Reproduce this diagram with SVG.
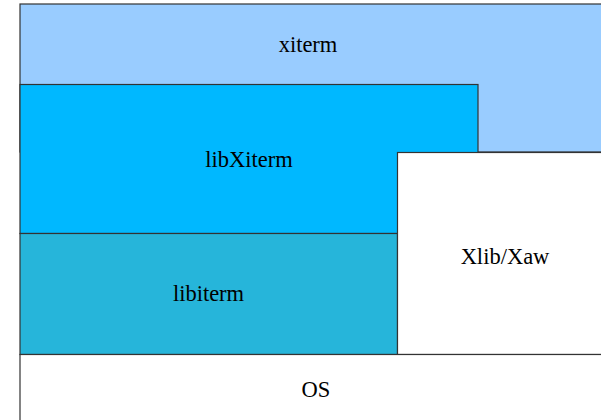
<svg xmlns="http://www.w3.org/2000/svg" width="601" height="420" viewBox="0 0 601 420">
  <style>
    .layer { stroke: #333; stroke-width: 1.2; }
    .label { font-family: "Liberation Serif", "Times New Roman", serif; font-size: 22.5px; fill: #000; text-anchor: middle; }
  </style>
  <rect x="0" y="0" width="601" height="420" fill="#fff"/>
  <g id="xiterm">
    <rect class="layer" x="20" y="4" width="600" height="148" fill="#99ccff"/>
    <text class="label" x="308" y="52">xiterm</text>
  </g>
  <g id="libXiterm">
    <rect class="layer" x="20" y="84.5" width="458" height="149" fill="#00b8ff"/>
    <text class="label" x="249" y="167">libXiterm</text>
  </g>
  <g id="libiterm">
    <rect class="layer" x="20" y="233.5" width="377.5" height="121" fill="#26b5da"/>
    <text class="label" x="208.5" y="301">libiterm</text>
  </g>
  <g id="xlib-xaw">
    <rect class="layer" x="397.5" y="152.5" width="230" height="202" fill="#ffffff"/>
    <text class="label" x="505" y="263.5">Xlib/Xaw</text>
  </g>
  <g id="os">
    <rect class="layer" x="20" y="354.5" width="600" height="90" fill="#ffffff"/>
    <text class="label" x="316" y="397">OS</text>
  </g>
  <g id="connectors"/>
</svg>
